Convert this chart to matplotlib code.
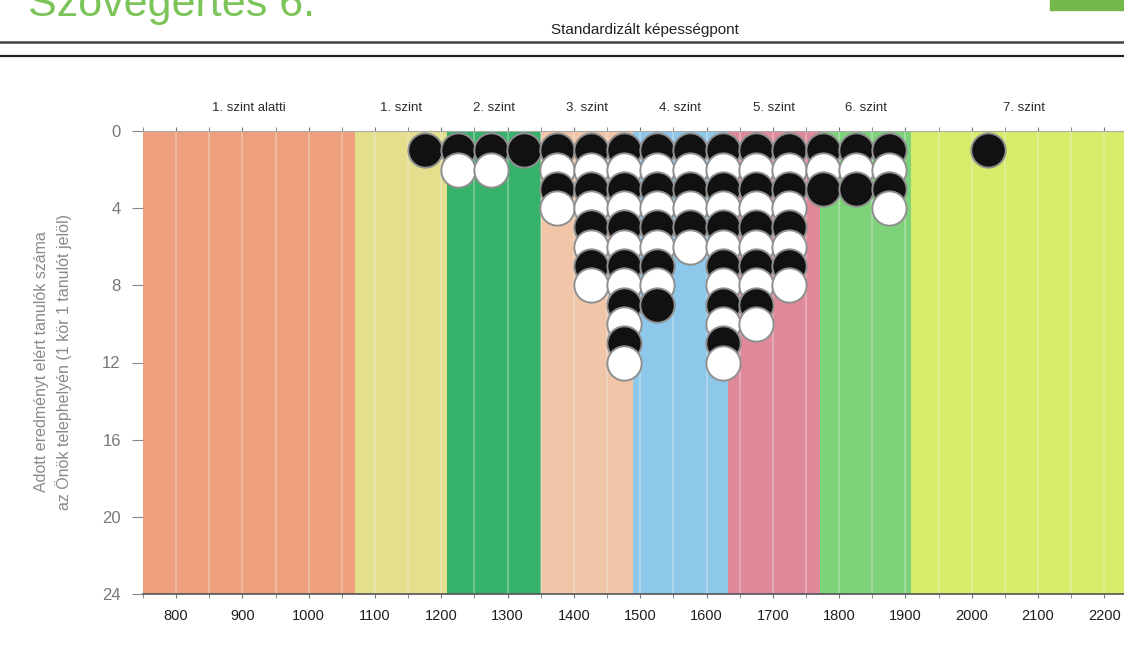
import matplotlib.pyplot as plt
from matplotlib.patches import Rectangle

plt.rcParams['font.family'] = ['Liberation Sans', 'DejaVu Sans']

# szintek es hatarok (standardizalt kepessegpont)
szintek = ["1. szint alatti", "1. szint", "2. szint", "3. szint",
           "4. szint", "5. szint", "6. szint", "7. szint"]
hatarok = [750, 1070, 1208, 1351, 1489, 1632, 1771, 1909, 2250]
szinek = ["#EE9F7D", "#E4DF8C", "#36B26A", "#F1C6A8",
          "#8DC8EA", "#E0899A", "#7DD27A", "#D8EB6B"]

# tanulok szama kepessegpont-savonkent
pontok = [1175, 1225, 1275, 1325, 1375, 1425, 1475, 1525, 1575,
          1625, 1675, 1725, 1775, 1825, 1875, 2025]
tanulok = [1, 2, 2, 1, 4, 8, 12, 9, 6, 12, 10, 8, 3, 3, 4, 1]

x_ticks = list(range(800, 2201, 100))
y_ticks = [0, 4, 8, 12, 16, 20, 24]

fig = plt.figure(figsize=(11.24, 6.66), dpi=100)
ax = fig.add_axes([143 / 1124, 72 / 666, 994.5 / 1124, 463 / 666])

# hatter savok
for i in range(len(szintek)):
    ax.axvspan(hatarok[i], hatarok[i + 1], color=szinek[i], lw=0, zorder=0)
    kozep = (hatarok[i] + hatarok[i + 1]) / 2
    ax.text(kozep, -1.2, szintek[i], ha="center", va="center",
            fontsize=9.5, color="#2a2a2a", clip_on=False)

# halvany racsvonalak 50 pontonkent
for gx in range(800, 2250, 50):
    ax.axvline(gx, color="#f0f0f0", lw=1.3, alpha=0.35, zorder=1)

# korok
for x, n in zip(pontok, tanulok):
    for k in range(1, n + 1):
        szin = "#111111" if k % 2 == 1 else "white"
        ax.scatter([x], [k], s=610, c=szin, edgecolors="#8f8f8f",
                   linewidths=1.4, zorder=2 + k)

ax.set_xlim(750, 2250)
ax.set_ylim(24, 0)
ax.set_xticks(x_ticks)
ax.set_xticks(range(750, 2251, 50), minor=True)
ax.set_yticks(y_ticks)
ax.tick_params(axis="x", which="both", top=True, direction="out",
               length=3, color="#777777", labelsize=10.5, labelcolor="#1e1e1e", pad=8)
ax.tick_params(axis="y", length=8, color="#888888", labelsize=12,
               labelcolor="#777777", pad=8)
for s in ["left", "right"]:
    ax.spines[s].set_visible(False)
ax.spines["bottom"].set_color("#555555")
ax.spines["bottom"].set_linewidth(1.2)
ax.spines["top"].set_color("#aaaaaa")

fig.text(42 / 1124, 1 - 362 / 666, "Adott eredményt elért tanulók száma",
         rotation=90, ha="center", va="center", fontsize=11.5, color="#8a8a8a")
fig.text(64 / 1124, 1 - 362 / 666, "az Önök telephelyén (1 kör 1 tanulót jelöl)",
         rotation=90, ha="center", va="center", fontsize=11.5, color="#8a8a8a")

# fejlec
fig.text(645 / 1124, 1 - 30 / 666, "Standardizált képességpont",
         ha="center", va="center", fontsize=11, color="#222222")
fig.text(28 / 1124, 1 - 16 / 666, "Szövegértés 6.", ha="left",
         va="baseline", fontsize=31, color="#7CC45A")
fig.add_artist(plt.Line2D([0, 1], [1 - 42 / 666] * 2, color="#444444", lw=1.8))
fig.add_artist(plt.Line2D([0, 1], [1 - 56 / 666] * 2, color="#222222", lw=1.6))
fig.add_artist(Rectangle((1050 / 1124, 1 - 10 / 666), 80 / 1124, 12 / 666,
                         color="#72B84A", transform=fig.transFigure))

fig.savefig("out.png", dpi=100)
